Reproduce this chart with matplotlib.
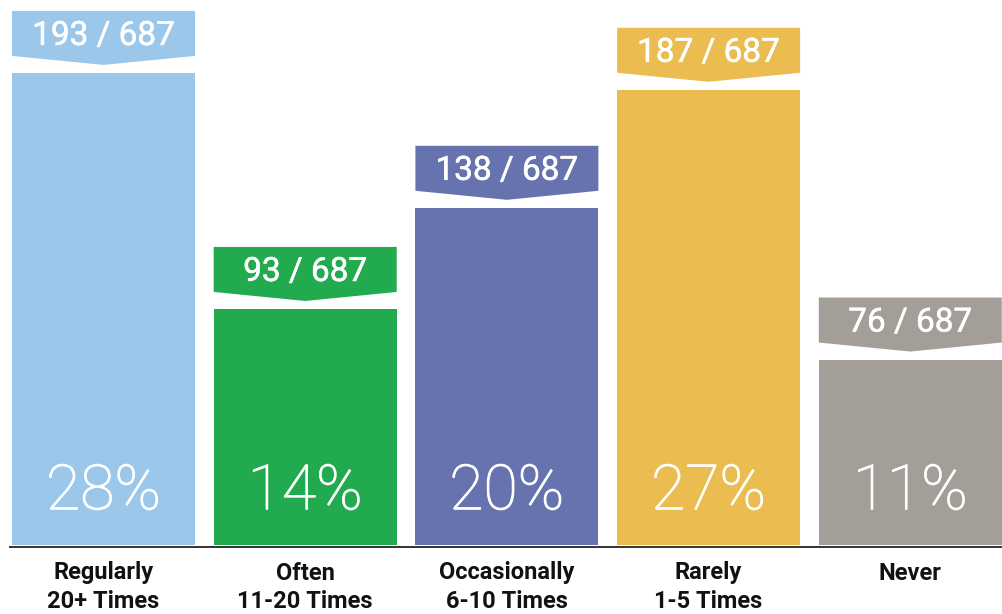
import matplotlib.pyplot as plt
import matplotlib.patheffects as pe
from matplotlib.patches import Polygon

# data
categories = ["Regularly\n20+ Times", "Often\n11-20 Times", "Occasionally\n6-10 Times",
              "Rarely\n1-5 Times", "Never"]
counts = [193, 93, 138, 187, 76]
total = 687
percents = [28, 14, 20, 27, 11]   # bar heights follow the rounded percentages
colors = ["#9AC7EA", "#22AA4F", "#6673AE", "#EBBD50", "#A39E98"]

W, H = 1002, 614
fig = plt.figure(figsize=(W / 100, H / 100), dpi=100)
base_px = 545          # pixel row (from top) of bar bottoms
ax = fig.add_axes([0, (H - base_px) / H, 1, base_px / H])
ax.axis("off")

step = 201.7
x0 = 103.5
ax.set_xlim(-x0 / step, (W - x0) / step)
ppu = 16.86            # pixels per percent
ymax = base_px / ppu
ax.set_ylim(0, ymax)

def px(v):
    return v / ppu

xs = list(range(len(counts)))
bw = 183 / step
ax.bar(xs, percents, width=bw, color=colors, zorder=2)

thick = [pe.withStroke(linewidth=0.4, foreground="white")]
thin = [pe.withStroke(linewidth=0.7, foreground="white")]

for x, c, p, col in zip(xs, counts, percents, colors):
    l, r = x - bw / 2, x + bw / 2
    top = p + px(62)
    sh = p + px(17)
    tip = p + px(8)
    poly = Polygon([(l, top), (r, top), (r, sh), (x, tip), (l, sh)],
                   closed=True, facecolor=col, edgecolor="none", zorder=3)
    ax.add_patch(poly)
    ax.text(x, p + px(37), f"{c} / {total}", ha="center", va="center",
            color="white", fontsize=24, fontfamily="Roboto", fontweight="normal",
            path_effects=thick, zorder=4)
    ax.text(x, px(53), f"{p}%", ha="center", va="center",
            color="white", fontsize=45, fontfamily="Roboto", fontweight="light",
            path_effects=thin, zorder=4)
    for k, line in enumerate(categories[x].split("\n")):
        ax.text(x, -px(28 + 28 * k), line, ha="center", va="center", color="#111111",
                fontsize=17, fontfamily="Roboto", fontweight="bold", clip_on=False)

ax.plot([10 / W, 1], [-px(2) / ymax] * 2, transform=ax.transAxes, color="#333333",
        lw=1.4, clip_on=False, zorder=5)

fig.savefig("out.png", dpi=100)
